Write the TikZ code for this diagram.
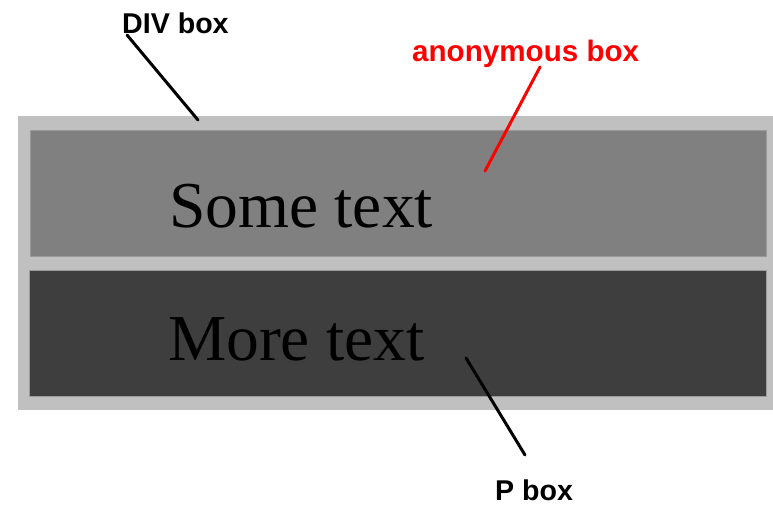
\documentclass[tikz,border=0pt]{standalone}
\usepackage{fontspec}
\setmainfont{Liberation Serif}
\newfontfamily\labfont{Liberation Sans}
\definecolor{lightg}{HTML}{C0C0C0}
\definecolor{midg}{HTML}{808080}
\definecolor{darkg}{HTML}{3E3E3E}
\definecolor{edgeg}{HTML}{9A9A9A}
\begin{document}
\begin{tikzpicture}[x=1pt,y=-1pt,
  boxtext/.style={anchor=base west,inner sep=0pt,font=\fontsize{65.5}{65.5}\selectfont,text=black},
  labtext/.style={anchor=base west,inner sep=0pt,font=\labfont\bfseries\fontsize{28.6}{28.6}\selectfont},
  pointer/.style={line width=3pt,line cap=round}]
\useasboundingbox (0,0) rectangle (773,507);
\fill[lightg] (18,116) rectangle (773,410);
\coordinate (divbox) at (18,116);
\filldraw[fill=midg,draw=edgeg,line width=0.8pt] (30,130) rectangle (766,256);
\filldraw[fill=darkg,draw=edgeg,line width=0.8pt] (29,270) rectangle (766,396);
\node[boxtext] (some) at (169,227) {Some text};
\node[boxtext] (more) at (168,360) {More text};
\node[labtext] (divlab) at (122,33) {DIV box};
\node[labtext,text=red,font=\labfont\bfseries\fontsize{29.6}{29.6}\selectfont] (anonlab) at (412,61) {anonymous box};
\node[labtext] (plab) at (495,500) {P box};
\coordinate (d1) at (127,35);
\coordinate (d2) at (198,120);
\coordinate (a1) at (540,67);
\coordinate (a2) at (485,171);
\coordinate (p1) at (466,358);
\coordinate (p2) at (525,455);
\draw[pointer] (d1) -- (d2);
\draw[pointer,red] (a1) -- (a2);
\draw[pointer] (p1) -- (p2);
\end{tikzpicture}
\end{document}
